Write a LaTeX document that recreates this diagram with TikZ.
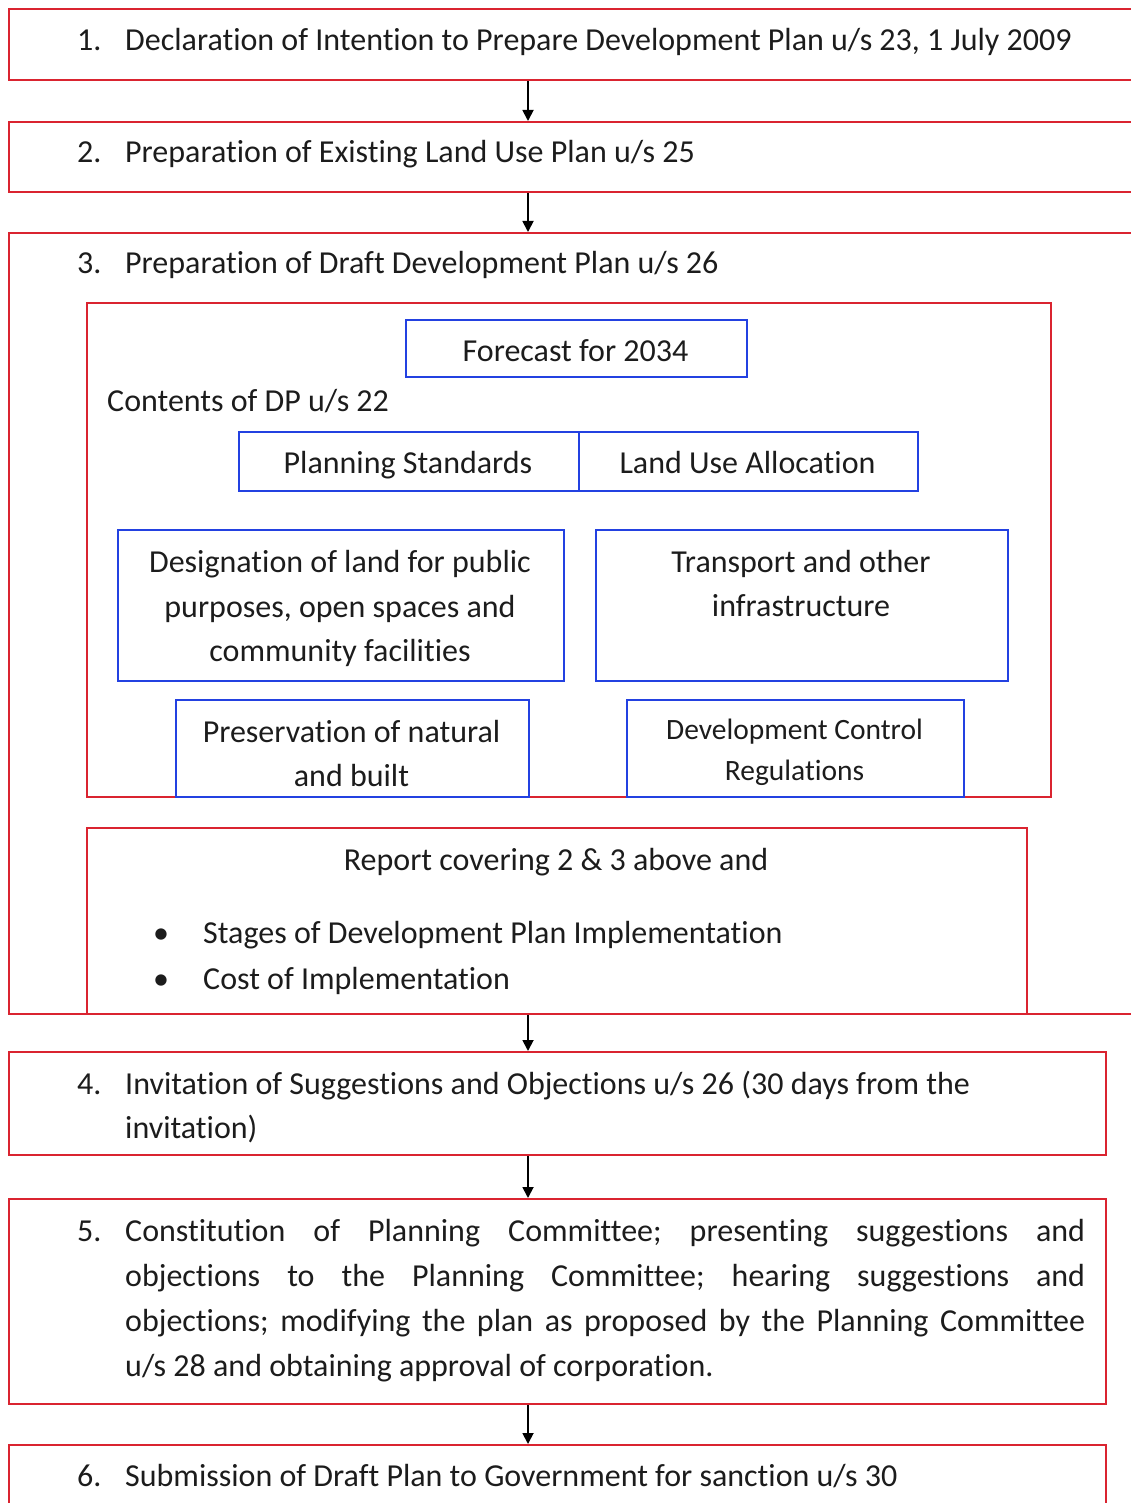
\documentclass[tikz,border=0pt]{standalone}
\usepackage{fontspec}
\setmainfont{Carlito}[Ligatures=NoCommon]
\usetikzlibrary{arrows.meta}
\definecolor{bred}{RGB}{218,36,48}
\definecolor{bblue}{RGB}{35,65,225}
\definecolor{txtc}{RGB}{28,28,28}
\newcommand{\fsz}[2]{\fontsize{#1}{#2}\selectfont}
\frenchspacing
\begin{document}
\begin{tikzpicture}[x=1pt,y=-1pt,
  redbox/.style={draw=bred, line width=2.4pt, inner sep=0pt, anchor=north west},
  bluebox/.style={draw=bblue, line width=2.4pt, inner sep=0pt, anchor=north west},
  lbl/.style={inner sep=0pt, anchor=base west, text=txtc, font=\fsz{32}{44}},
  clbl/.style={inner sep=0pt, anchor=base, text=txtc, font=\fsz{32}{44}},
  arr/.style={draw=black, line width=1.8pt, -{Triangle[length=11pt,width=11pt]}}]
\useasboundingbox (0,0) rectangle (1131,1503);
\clip (0,0) rectangle (1131,1503);
% main boxes
\node[redbox, minimum width=1150, minimum height=71] (b1) at (8,8) {};
\node[redbox, minimum width=1150, minimum height=70] (b2) at (8,121) {};
\node[redbox, minimum width=1150, minimum height=781] (b3) at (8,232) {};
\node[redbox, minimum width=1097, minimum height=103] (b4) at (8,1051) {};
\node[redbox, minimum width=1097, minimum height=205] (b5) at (8,1198) {};
\node[redbox, minimum width=1097, minimum height=120] (b6) at (8,1444) {};
% inner boxes
\node[redbox, minimum width=964, minimum height=494] (cont) at (86,302) {};
\node[redbox, minimum width=940, minimum height=186] (rep) at (86,827) {};
\node[bluebox, minimum width=341, minimum height=57] (fc) at (405,319) {};
\node[bluebox, minimum width=340, minimum height=59] (ps) at (238,431) {};
\node[bluebox, minimum width=339, minimum height=59] (lu) at (578,431) {};
\node[bluebox, minimum width=446, minimum height=151] (dl) at (117,529) {};
\node[bluebox, minimum width=412, minimum height=151] (tr) at (595,529) {};
\node[bluebox, minimum width=353, minimum height=97] (pr) at (175,699) {};
\node[bluebox, minimum width=337, minimum height=97] (dc) at (626,699) {};
% texts
\node[lbl] (n1) at (77,51) {1.};
\node[lbl] (t1) at (125,51) {Declaration of Intention to Prepare Development Plan u/s 23, 1 July 2009};
\node[lbl] (n2) at (77,163) {2.};
\node[lbl] (t2) at (125,163) {Preparation of Existing Land Use Plan u/s 25};
\node[lbl] (n3) at (77,274) {3.};
\node[lbl] (t3) at (125,274) {Preparation of Draft Development Plan u/s 26};
\node[clbl] (tfc) at (575.5,361) {Forecast for 2034};
\node[lbl] (tcont) at (107,411) {Contents of DP u/s 22};
\node[clbl] (tps) at (408,473) {Planning Standards};
\node[clbl] (tlu) at (747.5,473) {Land Use Allocation};
\node[clbl] (tdl1) at (340,572) {Designation of land for public};
\node[clbl] (tdl2) at (340,617) {purposes, open spaces and};
\node[clbl] (tdl3) at (340,661) {community facilities};
\node[clbl] (ttr1) at (801,572) {Transport and other};
\node[clbl] (ttr2) at (801,616) {infrastructure};
\node[clbl] (tpr1) at (351.5,742) {Preservation of natural};
\node[clbl] (tpr2) at (351.5,786) {and built};
\node[clbl, font=\fsz{29.5}{40}] (tdc1) at (794.5,739) {Development Control};
\node[clbl, font=\fsz{29.5}{40}] (tdc2) at (794.5,780) {Regulations};
\node[clbl] (trep) at (556,870) {Report covering 2 \& 3 above and};
\node[lbl] (bu1) at (153,943) {\textbullet};
\node[lbl] (tb1) at (203,943) {Stages of Development Plan Implementation};
\node[lbl] (bu2) at (153,989) {\textbullet};
\node[lbl] (tb2) at (203,989) {Cost of Implementation};
\node[lbl] (n4) at (77,1094) {4.};
\node[lbl] (t4a) at (125,1094) {Invitation of Suggestions and Objections u/s 26 (30 days from the};
\node[lbl] (t4b) at (125,1138) {invitation)};
\node[lbl] (n5) at (77,1241) {5.};
\node[lbl] (t5a) at (125,1241) {\makebox[960pt][s]{Constitution of Planning Committee; presenting suggestions and}};
\node[lbl] (t5b) at (125,1286) {\makebox[960pt][s]{objections to the Planning Committee; hearing suggestions and}};
\node[lbl] (t5c) at (125,1331) {\makebox[960pt][s]{objections; modifying the plan as proposed by the Planning Committee}};
\node[lbl] (t5d) at (125,1376) {u/s 28 and obtaining approval of corporation.};
\node[lbl] (n6) at (77,1486) {6.};
\node[lbl] (t6) at (125,1486) {Submission of Draft Plan to Government for sanction u/s 30};
% arrows
\coordinate (ax) at (528,0);
\draw[arr] (b1.south -| ax) -- (b2.north -| ax);
\draw[arr] (b2.south -| ax) -- (b3.north -| ax);
\draw[arr] (b3.south -| ax) -- (b4.north -| ax);
\draw[arr] (b4.south -| ax) -- (b5.north -| ax);
\draw[arr] (b5.south -| ax) -- (b6.north -| ax);
\end{tikzpicture}
\end{document}
